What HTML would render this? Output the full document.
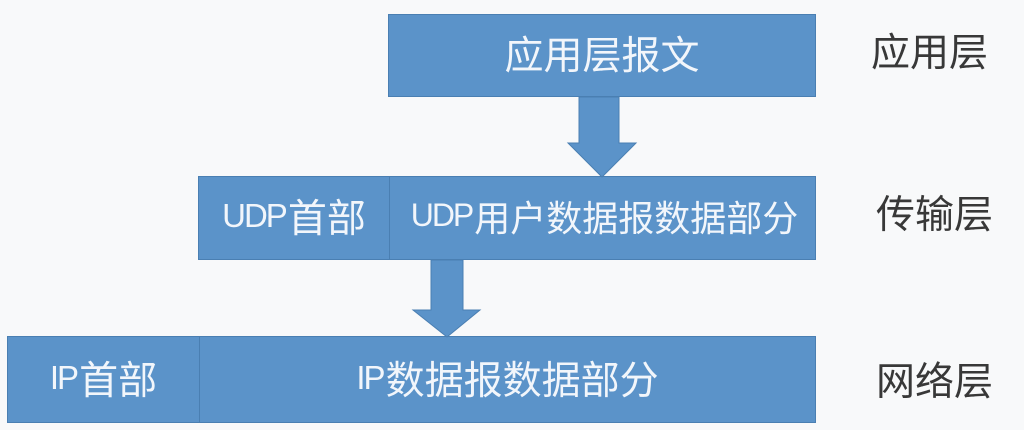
<!DOCTYPE html>
<html><head><meta charset="utf-8"><style>
html,body{margin:0;padding:0;}
body{width:1024px;height:430px;background:#f8f9fa;position:relative;overflow:hidden;font-family:"Liberation Sans","Noto Sans CJK SC",sans-serif;}
.b{position:absolute;background:#5b93c9;border:1px solid #4a7fb2;box-sizing:border-box;color:#f2f6fb;font-size:39px;display:flex;align-items:center;justify-content:center;white-space:nowrap;}
.l{position:absolute;font-size:39px;color:#383838;white-space:nowrap;line-height:1;}
.lat{font-size:33px;letter-spacing:-2px;margin-right:2px;}
svg{position:absolute;left:0;top:0;}
</style></head><body>
<div class="b" style="left:388px;top:14px;width:428px;height:83px;padding-bottom:6px;">应用层报文</div>
<div class="b" style="left:198px;top:176px;width:192px;height:84px;padding-bottom:5px;"><span class="lat">UDP</span>首部</div>
<div class="b" style="left:389px;top:176px;width:427px;height:84px;padding-bottom:5px;font-size:36px;padding-left:4px;"><span class="lat" style="font-size:32px;">UDP</span>用户数据报数据部分</div>
<div class="b" style="left:7px;top:336px;width:193px;height:87px;padding-bottom:3px;"><span class="lat">IP</span>首部</div>
<div class="b" style="left:199px;top:336px;width:617px;height:87px;padding-bottom:3px;"><span class="lat">IP</span>数据报数据部分</div>
<svg width="1024" height="430">
<polygon points="579,97 619,97 619,143 636,143 602,177 568,143 579,143" fill="#5b93c9" stroke="#4a7fb2" stroke-width="1"/>
<polygon points="431,260 463,260 463,310 480,310 447,337 413,310 431,310" fill="#5b93c9" stroke="#4a7fb2" stroke-width="1"/>
</svg>
<div class="l" style="left:871px;top:34px;">应用层</div>
<div class="l" style="left:876px;top:196px;">传输层</div>
<div class="l" style="left:876px;top:363px;">网络层</div>
</body></html>
